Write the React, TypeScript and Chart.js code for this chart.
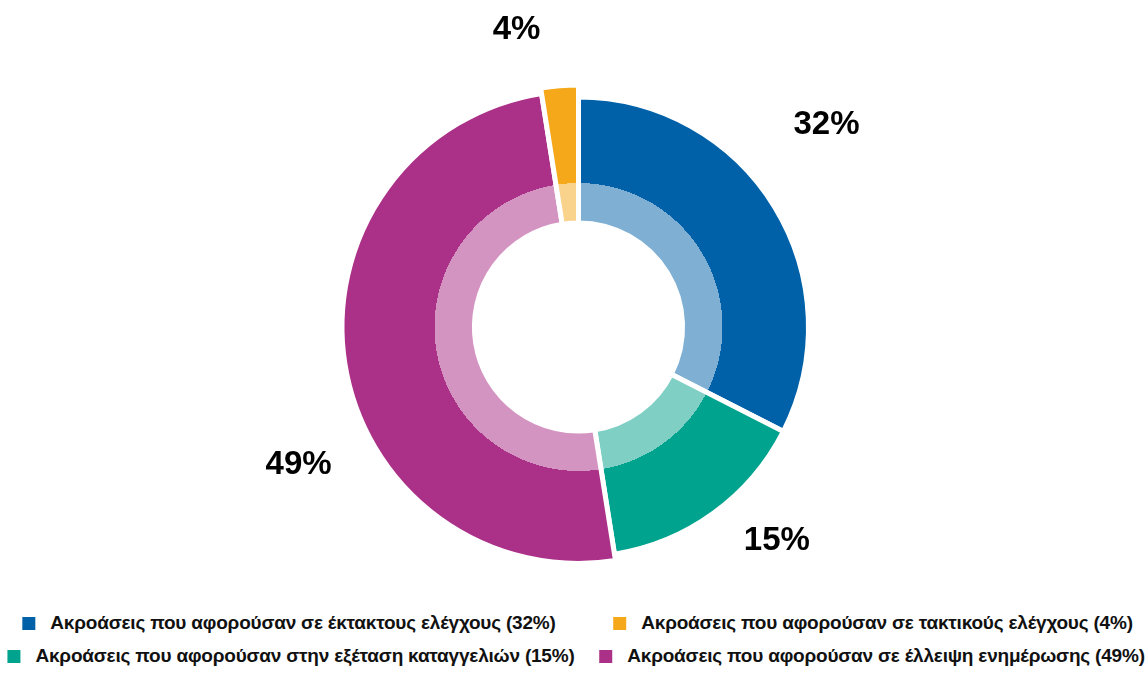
import React, { useEffect, useRef } from "react";
import { Chart, registerables } from "chart.js";

Chart.register(...registerables);

// ---- data (clockwise from 12 o'clock) ----
const categories = [
  "Ακροάσεις που αφορούσαν σε έκτακτους ελέγχους",
  "Ακροάσεις που αφορούσαν στην εξέταση καταγγελιών",
  "Ακροάσεις που αφορούσαν σε έλλειψη ενημέρωσης",
  "Ακροάσεις που αφορούσαν σε τακτικούς ελέγχους",
];
const sliceShares = [32.5, 15, 50, 2.5];
const percentLabels = ["32%", "15%", "49%", "4%"];
const legendOrder = [0, 3, 1, 2];

// ---- styles ----
const darkColors = ["#0061a8", "#00a38d", "#ab3087", "#f6a81b"];
const lightColors = ["#7fb0d3", "#7fcfc5", "#d494c1", "#f9d28c"];
const OUTER_R = 242;
const LIGHT_R = 144;
const HOLE_CUTOUT = "43%";
const radiusTrim = [12, 12, 5.5, 0];
const labelNudgeDeg = [-7.7, -6.8, -17.2, -7.3];
const labelDist = [320, 292, 312, 303];
const FONT = '"Liberation Sans", Arial, sans-serif';

function sliceFill(ctx: any) {
  const i = ctx.dataIndex;
  if (i === undefined) return darkColors[0];
  const chart = ctx.chart;
  const a = chart.chartArea;
  if (!a) return darkColors[i];
  const cx = (a.left + a.right) / 2;
  const cy = (a.top + a.bottom) / 2;
  const g = chart.ctx.createRadialGradient(cx, cy, 0, cx, cy, OUTER_R);
  const s = LIGHT_R / OUTER_R;
  g.addColorStop(0, lightColors[i]);
  g.addColorStop(s, lightColors[i]);
  g.addColorStop(s, darkColors[i]);
  g.addColorStop(1, darkColors[i]);
  return g;
}

const trimPlugin = {
  id: "sliceRadius",
  afterDatasetsUpdate(chart: any) {
    const meta = chart.getDatasetMeta(0);
    meta.data.forEach((arc: any, i: number) => {
      arc.outerRadius = OUTER_R - radiusTrim[i];
    });
  },
};

const labelPlugin = {
  id: "pctLabels",
  afterDatasetsDraw(chart: any) {
    const ctx = chart.ctx;
    const meta = chart.getDatasetMeta(0);
    ctx.save();
    ctx.font = `bold 33px ${FONT}`;
    ctx.fillStyle = "#000";
    ctx.textAlign = "center";
    ctx.textBaseline = "middle";
    meta.data.forEach((arc: any, i: number) => {
      const { x, y, startAngle, endAngle } = arc.getProps(["x", "y", "startAngle", "endAngle"], true);
      const ang = (startAngle + endAngle) / 2 + (labelNudgeDeg[i] * Math.PI) / 180;
      ctx.fillText(percentLabels[i], x + Math.cos(ang) * labelDist[i], y + Math.sin(ang) * labelDist[i]);
    });
    ctx.restore();
  },
};

const legendPos = [
  { cx: 289, top: 612 },
  { cx: 873, top: 612 },
  { cx: 291, top: 645 },
  { cx: 872, top: 645 },
];

export default function App() {
  const ref = useRef<HTMLCanvasElement>(null);

  useEffect(() => {
    if (!ref.current) return;
    const chart = new Chart(ref.current, {
      type: "doughnut",
      data: {
        labels: categories,
        datasets: [
          {
            data: sliceShares,
            backgroundColor: sliceFill,
            borderColor: "#ffffff",
            borderWidth: 5,
            hoverOffset: 0,
          },
        ],
      },
      options: {
        responsive: true,
        maintainAspectRatio: false,
        animation: false,
        radius: OUTER_R,
        cutout: HOLE_CUTOUT,
        layout: { padding: { left: 12, top: 54, right: 0, bottom: 0 } },
        plugins: {
          legend: { display: false },
          tooltip: { enabled: false },
        },
      },
      plugins: [trimPlugin, labelPlugin],
    });
    return () => chart.destroy();
  }, []);

  return (
    <div style={{ position: "absolute", left: 0, top: 0, width: 1145, height: 676, background: "#fff" }}>
      <div style={{ position: "absolute", left: 0, top: 0, width: 1145, height: 600 }}>
        <canvas ref={ref} />
      </div>
      {legendOrder.map((idx, k) => (
        <div
          key={idx}
          style={{
            position: "absolute",
            left: legendPos[k].cx,
            top: legendPos[k].top,
            transform: "translateX(-50%)",
            display: "flex",
            alignItems: "center",
            whiteSpace: "nowrap",
            fontFamily: FONT,
            fontWeight: "bold",
            fontSize: 19,
            letterSpacing: "-0.2px",
            lineHeight: "22px",
            color: "#111",
          }}
        >
          <span
            style={{
              display: "inline-block",
              width: 13,
              height: 13,
              background: darkColors[idx],
              marginRight: 15,
            }}
          />
          <span>{`${categories[idx]} (${percentLabels[idx]})`}</span>
        </div>
      ))}
    </div>
  );
}
